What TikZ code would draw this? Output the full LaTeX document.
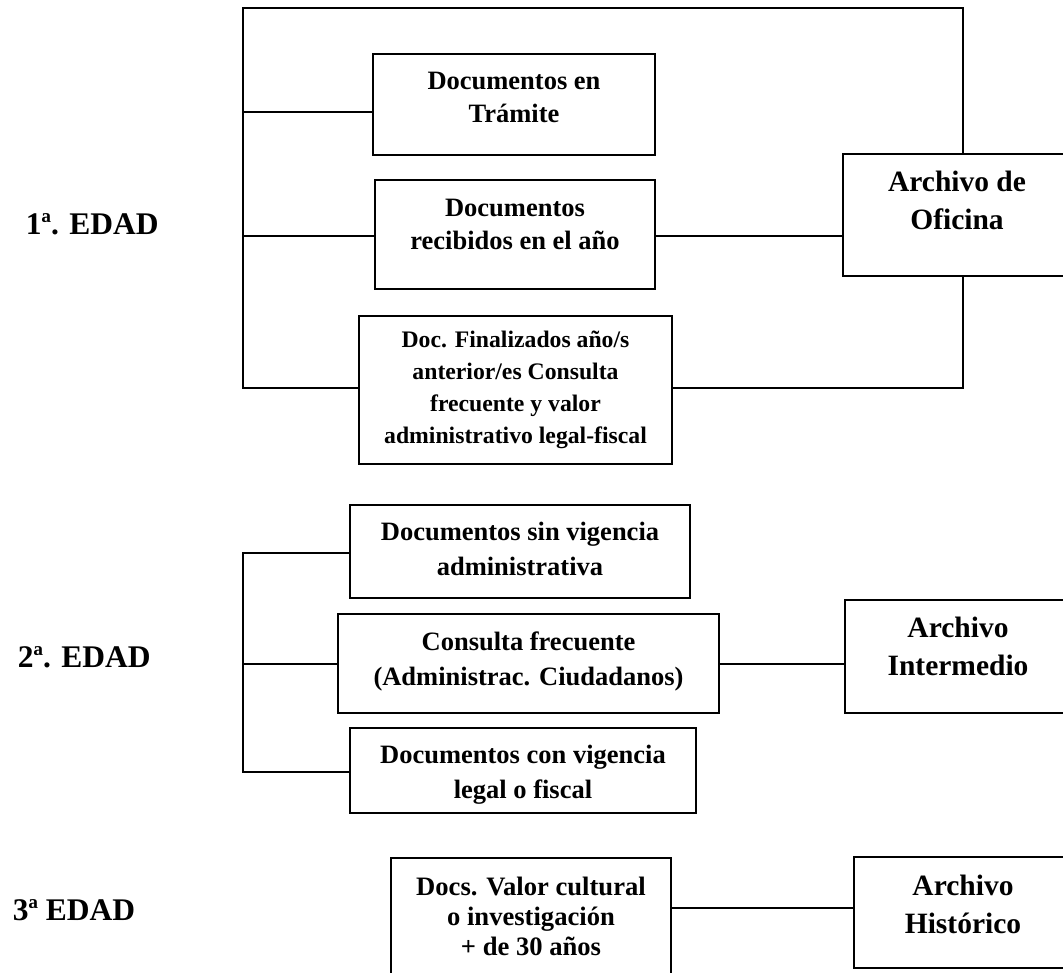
\documentclass[tikz,border=0pt]{standalone}
\usepackage{fontspec}
\setmainfont{Liberation Serif}
\begin{document}
\begin{tikzpicture}[x=1pt,y=-1pt,line width=1.8pt,
  box/.style={draw,rectangle,inner sep=0pt,line width=1.8pt},
  txt/.style={anchor=base,inner sep=0pt},
  fa/.style={font=\fontsize{26.5}{33}\selectfont\bfseries},
  fb/.style={font=\fontsize{26.5}{35}\selectfont\bfseries},
  fs/.style={font=\fontsize{23.7}{32}\selectfont\bfseries},
  fd/.style={font=\fontsize{26.6}{30}\selectfont\bfseries},
  farch/.style={font=\fontsize{29.5}{38}\selectfont\bfseries},
  fedad/.style={font=\fontsize{31.5}{38}\selectfont\bfseries,anchor=base west,inner sep=0pt}
]
\useasboundingbox (0,0) rectangle (1063,973);
\clip (0,0) rectangle (1063,973);

% level coordinates
\coordinate (x243) at (243,0);
\coordinate (x963) at (963,0);
\coordinate (y8) at (0,8);
\coordinate (y112) at (0,112);
\coordinate (y236) at (0,236);
\coordinate (y388) at (0,388);
\coordinate (y553) at (0,553);
\coordinate (y664) at (0,664);
\coordinate (y772) at (0,772);
\coordinate (y908) at (0,908);

% ---------- 1a EDAD ----------
\node[fedad] (e1) at (25,235) {1ª. EDAD};
\node[box,minimum width=282pt,minimum height=101pt] (b1) at (514,104.5) {};
\node[txt,fa] (t1) at (514,90) {\begin{tabular}[t]{@{}c@{}}Documentos en\\Trámite\end{tabular}};
\node[box,minimum width=280pt,minimum height=109pt] (b2) at (515,234.5) {};
\node[txt,fa] (t2) at (515,217) {\begin{tabular}[t]{@{}c@{}}Documentos\\recibidos en el año\end{tabular}};
\node[box,minimum width=313pt,minimum height=148pt] (b3) at (515.5,390) {};
\node[txt,fs] (t3) at (515.5,348) {\begin{tabular}[t]{@{}c@{}}Doc. Finalizados año/s\\anterior/es Consulta\\frecuente y valor\\administrativo legal-fiscal\end{tabular}};
\node[box,minimum width=228pt,minimum height=122pt] (ao) at (957,215) {};
\node[txt,farch] (tao) at (957,192) {\begin{tabular}[t]{@{}c@{}}Archivo de\\Oficina\end{tabular}};

\draw (ao.north -| x963) |- (y8 -| x243) -- (x243 |- y388) -- (b3.west |- y388);
\draw (ao.south -| x963) |- (b3.east |- y388);
\draw (x243 |- y112) -- (b1.west |- y112);
\draw (x243 |- y236) -- (b2.west |- y236);
\draw (b2.east |- y236) -- (ao.west |- y236);

% ---------- 2a EDAD ----------
\node[fedad] (e2) at (17,667) {2ª. EDAD};
\node[box,minimum width=340pt,minimum height=93pt] (a) at (520,551.5) {};
\node[txt,fb] (ta) at (520,540) {\begin{tabular}[t]{@{}c@{}}Documentos sin vigencia\\administrativa\end{tabular}};
\node[box,minimum width=381pt,minimum height=99pt] (b) at (528.5,663.5) {};
\node[txt,fb] (tb) at (528.5,650) {\begin{tabular}[t]{@{}c@{}}Consulta frecuente\\(Administrac. Ciudadanos)\end{tabular}};
\node[box,minimum width=346pt,minimum height=85pt] (c) at (523,770.5) {};
\node[txt,fb] (tc) at (523,763) {\begin{tabular}[t]{@{}c@{}}Documentos con vigencia\\legal o fiscal\end{tabular}};
\node[box,minimum width=226pt,minimum height=113pt] (ai) at (958,656.5) {};
\node[txt,farch] (tai) at (958,637) {\begin{tabular}[t]{@{}c@{}}Archivo\\Intermedio\end{tabular}};

\draw (a.west |- y553) -- (x243 |- y553) -- (x243 |- y772) -- (c.west |- y772);
\draw (x243 |- y664) -- (b.west |- y664);
\draw (b.east |- y664) -- (ai.west |- y664);

% ---------- 3a EDAD ----------
\node[fedad] (e3) at (12,920) {3ª EDAD};
\node[box,minimum width=280pt,minimum height=142pt] (docs) at (531,929) {};
\node[txt,fd] (tdocs) at (531,895) {\begin{tabular}[t]{@{}c@{}}Docs. Valor cultural\\o investigación\\+ de 30 años\end{tabular}};
\node[box,minimum width=218pt,minimum height=111pt] (ah) at (963,912.5) {};
\node[txt,farch] (tah) at (963,895) {\begin{tabular}[t]{@{}c@{}}Archivo\\Histórico\end{tabular}};

\draw (docs.east |- y908) -- (ah.west |- y908);
\end{tikzpicture}
\end{document}
